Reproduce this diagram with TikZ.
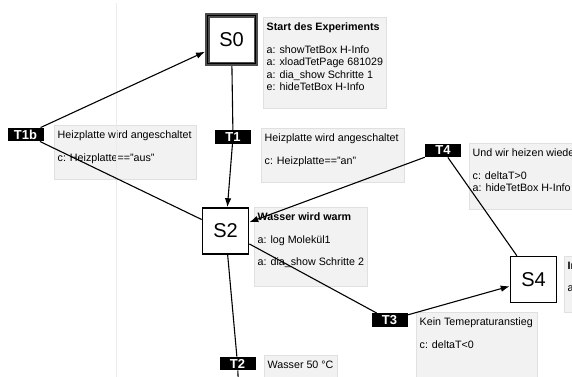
\documentclass[tikz,border=0pt]{standalone}
\usepackage{fontspec}
\setmainfont{Liberation Sans}
\usetikzlibrary{arrows.meta, positioning}

\begin{document}
\begin{tikzpicture}[x=1pt, y=-1pt,
  state/.style={draw=black, line width=1.6pt, fill=white, minimum width=46, minimum height=46, inner sep=0pt, font=\fontsize{20}{20}\selectfont},
  startstate/.style={state, draw=black!70, line width=4.5pt, minimum width=48.5, minimum height=48.5},
  trans/.style={fill=black, text=white, inner sep=0pt, minimum width=36, minimum height=13.5, font=\fontsize{13}{13}\selectfont\bfseries},
  infobox/.style={fill=black!5, draw=black!12, line width=0.6pt, anchor=north west, inner sep=0pt},
  infotext/.style={anchor=north west, align=left, inner sep=0pt, font=\fontsize{10.7}{12.6}\selectfont},
  conn/.style={line width=1.1pt},
  arr/.style={conn, -{Latex[length=9pt, width=6.5pt]}}
]
  \clip (0,0) rectangle (572,376);

  % Info boxes
  \node[infobox, minimum width=123, minimum height=91] (s0box) at (263,17) {};
  \node[infotext] (s0txt) at ([shift={(3.5,5.5)}]s0box.north west)
    {\textbf{Start des Experiments}\\[10pt]a: showTetBox H-Info\\a: xloadTetPage 681029\\a: dia\_show Schritte 1\\e: hideTetBox H-Info};

  \node[infobox, minimum width=142, minimum height=54] (t1bbox) at (54,125) {};
  \node[infotext] (t1btxt) at ([shift={(3.5,5.5)}]t1bbox.north west)
    {Heizplatte wird angeschaltet\\[10pt]c: Heizplatte=="aus"};

  \node[infobox, minimum width=143, minimum height=54] (t1box) at (261,128) {};
  \node[infotext] (t1txt) at ([shift={(3.5,5.5)}]t1box.north west)
    {Heizplatte wird angeschaltet\\[10pt]c: Heizplatte=="an"};

  \node[infobox, minimum width=113, minimum height=79] (s2box) at (254,207) {};
  \node[infotext] (s2txt) at ([shift={(3.5,5.5)}]s2box.north west)
    {\textbf{Wasser wird warm}\\[10pt]a: log Molekül1\\[10pt]a: dia\_show Schritte 2};

  \node[infobox, minimum width=130, minimum height=66] (t4box) at (469,143) {};
  \node[infotext] (t4txt) at ([shift={(3.5,5.5)}]t4box.north west)
    {Und wir heizen wiede\\[10pt]c: deltaT>0\\a: hideTetBox H-Info};

  \node[infobox, minimum width=60, minimum height=56] (s4box) at (564,256) {};
  \node[infotext] (s4txt) at ([shift={(3.5,5.5)}]s4box.north west)
    {\textbf{In}\\[10pt]a:};

  \node[infobox, minimum width=121, minimum height=80] (t3box) at (416,312) {};
  \node[infotext] (t3txt) at ([shift={(3.5,5.5)}]t3box.north west)
    {Kein Temepraturanstieg\\[10pt]c: deltaT<0};

  \node[infobox, minimum width=73, minimum height=40] (t2box) at (264,355) {};
  \node[infotext] (t2txt) at ([shift={(3.5,5.5)}]t2box.north west)
    {Wasser 50 °C};

  % Faint guide line
  \draw[black!8, line width=0.7pt] (116.5,3) -- (116.5,380);

  % States
  \node[startstate] (s0) at (231.5,39.5) {S0};
  \draw[black, line width=0.8pt] ([shift={(2.5,2.5)}]s0.north west) rectangle ([shift={(-2.5,-2.5)}]s0.south east);
  \node[state] (s2) at (225.5,231) {S2};
  \node[state] (s4) at (533.5,279.5) {S4};

  % Transitions
  \node[trans] (t1b) at (25.5,134.5) {T1b};
  \node[trans] (t1) at (233,137) {T1};
  \node[trans] (t4) at (443,150.5) {T4};
  \node[trans] (t3) at (389.5,320) {T3};
  \node[trans] (t2) at (237.5,363.5) {T2};
  \coordinate (down) at (240,420);

  % Connectors
  \draw[conn] (s2) -- (t1b);
  \draw[arr] (t1b) -- (s0);
  \draw[conn] (s0) -- (t1);
  \draw[arr] (t1) -- (s2);
  \draw[conn] (s2) -- (t3);
  \draw[arr] (t3) -- (s4);
  \draw[conn] (s4) -- (t4);
  \draw[arr] (t4) -- (s2);
  \draw[conn] (s2) -- (t2);
  \draw[conn] (t2) -- (down);
\end{tikzpicture}
\end{document}
